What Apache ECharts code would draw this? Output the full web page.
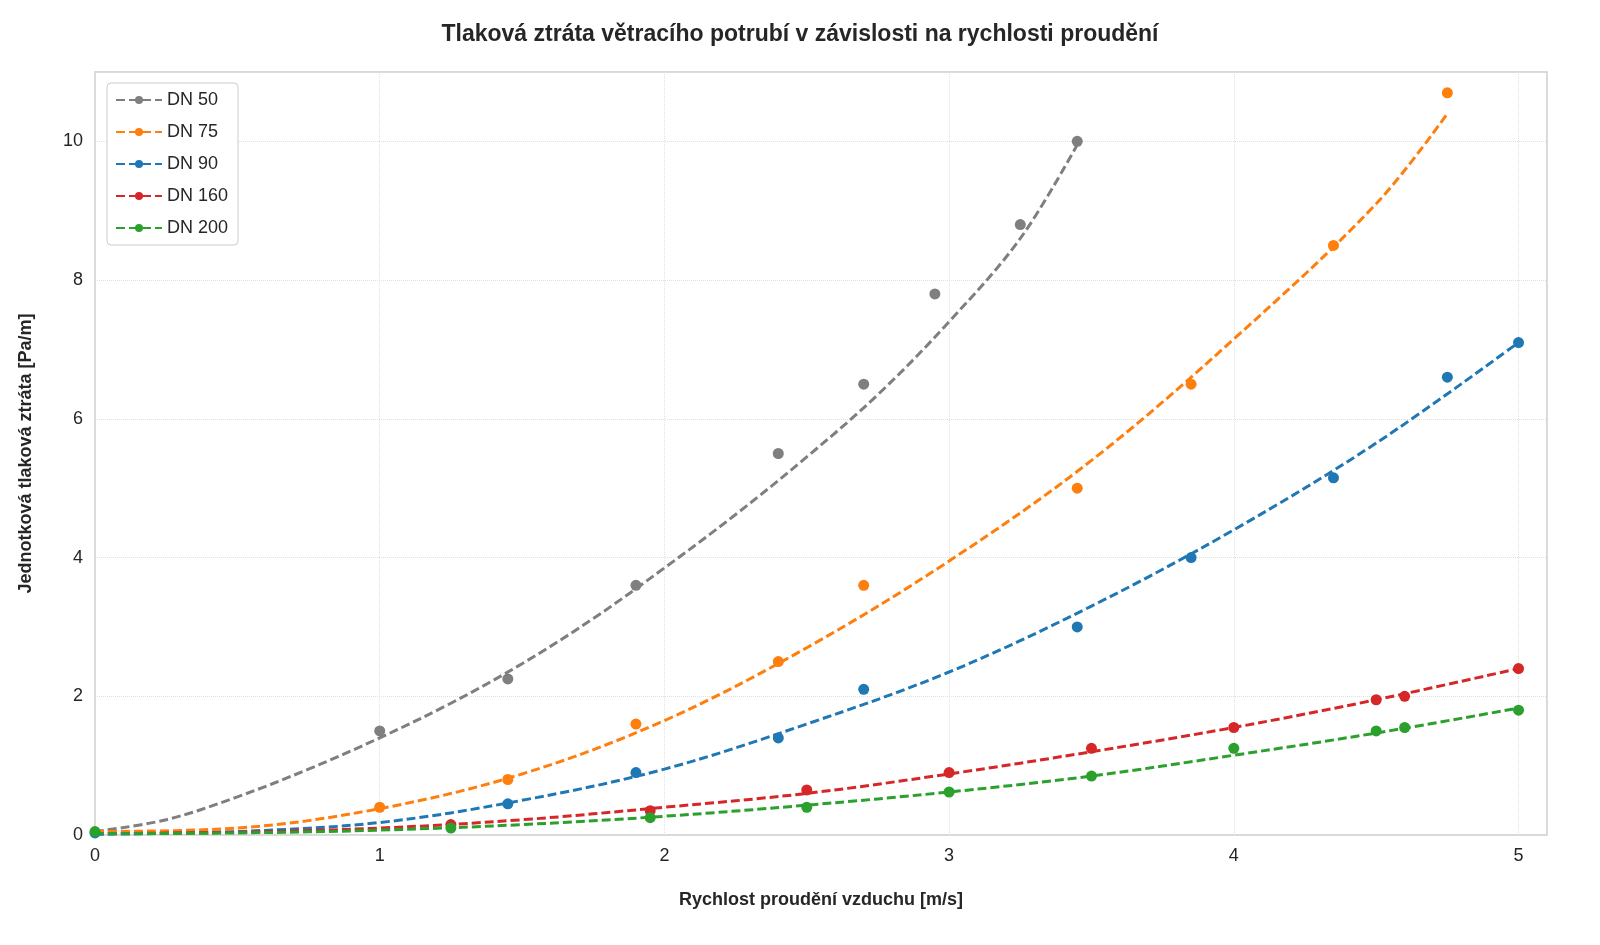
<!DOCTYPE html>
<html>
<head>
<meta charset="utf-8">
<script src="https://cdn.jsdelivr.net/npm/echarts@6/dist/echarts.min.js"></script>
<style>
  html, body { margin: 0; padding: 0; background: #fff; }
  #chart { width: 1600px; height: 945px; }
</style>
</head>
<body>
<div id="chart"></div>
<script>
// Measured points per pipe size [velocity m/s, loss Pa/m]
const seriesNames = ['DN 50', 'DN 75', 'DN 90', 'DN 160', 'DN 200'];
const seriesColors = ['#7f7f7f', '#ff7f0e', '#1f77b4', '#d62728', '#2ca02c'];

const pointsDN50 = [[1, 1.5], [1.45, 2.25], [1.9, 3.6], [2.4, 5.5], [2.7, 6.5], [2.95, 7.8], [3.25, 8.8], [3.45, 10]];
const pointsDN75 = [[1, 0.4], [1.45, 0.8], [1.9, 1.6], [2.4, 2.5], [2.7, 3.6], [3.45, 5], [3.85, 6.5], [4.35, 8.5], [4.75, 10.7]];
const pointsDN90 = [[0, 0.03], [1.45, 0.45], [1.9, 0.9], [2.4, 1.4], [2.7, 2.1], [3.45, 3], [3.85, 4], [4.35, 5.15], [4.75, 6.6], [5, 7.1]];
const pointsDN160 = [[1.25, 0.15], [1.95, 0.35], [2.5, 0.65], [3, 0.9], [3.5, 1.25], [4, 1.55], [4.5, 1.95], [4.6, 2.0], [5, 2.4]];
const pointsDN200 = [[0, 0.05], [1.25, 0.1], [1.95, 0.25], [2.5, 0.4], [3, 0.62], [3.5, 0.85], [4, 1.25], [4.5, 1.5], [4.6, 1.55], [5, 1.8]];

// Fitted trend curves
const fitDN50 = [[0, 0.05], [0.25, 0.22], [0.5, 0.55], [0.75, 0.95], [1, 1.4], [1.25, 1.9], [1.5, 2.47], [1.75, 3.12], [2, 3.85], [2.25, 4.62], [2.5, 5.45], [2.75, 6.35], [3, 7.4], [3.25, 8.6], [3.45, 9.95]];
const fitDN75 = [[0, 0.05], [0.5, 0.1], [1, 0.38], [1.5, 0.88], [2, 1.65], [2.5, 2.7], [3, 3.95], [3.5, 5.4], [4, 7.15], [4.5, 9.1], [4.75, 10.4]];
const fitDN90 = [[0, 0.01], [0.5, 0.05], [1, 0.18], [1.5, 0.5], [2, 0.95], [2.5, 1.6], [3, 2.35], [3.5, 3.3], [4, 4.4], [4.5, 5.65], [5, 7.1]];
const fitDN160 = [[0, 0.02], [0.5, 0.04], [1, 0.1], [1.5, 0.22], [2, 0.4], [2.5, 0.6], [3, 0.88], [3.5, 1.2], [4, 1.55], [4.5, 1.95], [5, 2.4]];
const fitDN200 = [[0, 0.02], [0.5, 0.03], [1, 0.07], [1.5, 0.15], [2, 0.27], [2.5, 0.43], [3, 0.62], [3.5, 0.85], [4, 1.15], [4.5, 1.47], [5, 1.83]];

const points = [pointsDN50, pointsDN75, pointsDN90, pointsDN160, pointsDN200];
const fits = [fitDN50, fitDN75, fitDN90, fitDN160, fitDN200];

const font = 'Liberation Sans, Arial, sans-serif';
const chart = echarts.init(document.getElementById('chart'));

const lineSeries = seriesNames.map((name, i) => ({
    name, type: 'line', data: fits[i], smooth: 0.35, symbol: 'none',
    lineStyle: { color: seriesColors[i], width: 3, type: [9, 4] },
    itemStyle: { color: seriesColors[i] }, z: 3
}));
const scatterSeries = seriesNames.map((name, i) => ({
    name: name + ' data', type: 'scatter', data: points[i], symbolSize: 11,
    itemStyle: { color: seriesColors[i], opacity: 1 }, z: 4
}));

chart.setOption({
    animation: false,
    backgroundColor: '#fff',
    textStyle: { fontFamily: font },
    title: {
        text: 'Tlaková ztráta větracího potrubí v závislosti na rychlosti proudění',
        left: 'center', top: 18,
        textStyle: { fontFamily: font, fontSize: 23, fontWeight: 'bold', color: '#262626' }
    },
    grid: { left: 95, right: 53, top: 72, bottom: 110, show: true, borderColor: '#cccccc', borderWidth: 1.5 },
    legend: {
        data: seriesNames, orient: 'vertical', left: 107, top: 83,
        itemWidth: 46, itemHeight: 10, itemGap: 14,
        padding: [8, 10, 8, 8], borderColor: '#cccccc', borderWidth: 1, borderRadius: 4,
        backgroundColor: '#fff',
        textStyle: { fontFamily: font, fontSize: 18, color: '#262626' }
    },
    xAxis: {
        type: 'value', min: 0, max: 5.1, interval: 1,
        name: 'Rychlost proudění vzduchu [m/s]', nameLocation: 'middle', nameGap: 56,
        nameTextStyle: { fontFamily: font, fontSize: 18, fontWeight: 'bold', color: '#262626' },
        axisLine: { show: false }, axisTick: { show: false },
        axisLabel: { fontSize: 18, color: '#262626', margin: 12, formatter: v => (v > 5 ? '' : v) },
        splitLine: { lineStyle: { color: '#e0e0e0', type: 'dotted' } }
    },
    yAxis: {
        type: 'value', min: 0, max: 11, interval: 2,
        name: 'Jednotková tlaková ztráta [Pa/m]', nameLocation: 'middle', nameGap: 60,
        nameTextStyle: { fontFamily: font, fontSize: 18, fontWeight: 'bold', color: '#262626' },
        axisLine: { show: false }, axisTick: { show: false },
        axisLabel: { fontSize: 18, color: '#262626', margin: 12, formatter: v => (v > 10 ? '' : v) },
        splitLine: { lineStyle: { color: '#e0e0e0', type: 'dotted' } }
    },
    series: [...lineSeries, ...scatterSeries]
});
</script>
</body>
</html>
